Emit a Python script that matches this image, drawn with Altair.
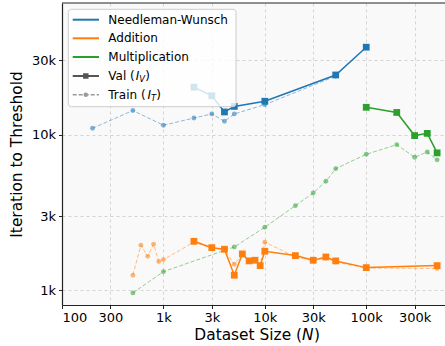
import altair as alt
import pandas as pd

tasks = ["Needleman-Wunsch", "Addition", "Multiplication"]
colors = ["#1f77b4", "#ff7f0e", "#2ca02c"]

# Needleman-Wunsch
nw_train_n = [200, 500, 1000, 2000, 3000, 4000, 5000, 10000, 50000]
nw_train_it = [11000, 14300, 11500, 12800, 13600, 12200, 13600, 15600, 23800]
nw_val_n = [2000, 3000, 4000, 5000, 10000, 50000, 100000]
nw_val_it = [20200, 17800, 14000, 15200, 16400, 24200, 36500]

# Addition
add_train_n = [500, 600, 700, 800, 900, 1000, 2000, 3000, 4000, 5000, 6000, 7000, 8000,
               9000, 10000, 20000, 30000, 40000, 50000, 100000, 500000]
add_train_it = [1250, 1950, 1655, 1975, 1530, 1575, 2040, 1870, 1830, 1470, 1700, 1540, 1560,
                1450, 2040, 1640, 1550, 1610, 1520, 1390, 1380]
add_val_n = [2000, 3000, 4000, 5000, 6000, 7000, 8000, 9000, 10000, 20000, 30000, 40000,
             50000, 100000, 500000]
add_val_it = [2065, 1880, 1836, 1250, 1713, 1545, 1560, 1441, 1783, 1671, 1560, 1638,
              1545, 1399, 1441]

# Multiplication
mul_train_n = [500, 1000, 5000, 10000, 20000, 30000, 40000, 50000, 100000, 200000, 300000,
               400000, 500000]
mul_train_it = [962, 1318, 1899, 2542, 3500, 4220, 5020, 6050, 7480, 8630, 7160, 7740, 6890]
mul_val_n = [100000, 200000, 300000, 400000, 500000]
mul_val_it = [15000, 13900, 9870, 10200, 7640]

x_ticks = [100, 300, 1000, 3000, 10000, 30000, 100000, 300000]
y_ticks = [1000, 3000, 10000, 30000]

rows = []
def add(task, kind, ns, its):
    for n, v in zip(ns, its):
        rows.append({"task": task, "kind": kind, "N": n, "it": v})

add(tasks[0], "train", nw_train_n, nw_train_it)
add(tasks[0], "val", nw_val_n, nw_val_it)
add(tasks[1], "train", add_train_n, add_train_it)
add(tasks[1], "val", add_val_n, add_val_it)
add(tasks[2], "train", mul_train_n, mul_train_it)
add(tasks[2], "val", mul_val_n, mul_val_it)
df = pd.DataFrame(rows)

FONT = "DejaVu Sans"
W, H = 383, 302

lbl = "datum.value >= 1000 ? format(datum.value / 1000, 'd') + 'k' : format(datum.value, 'd')"

x = alt.X("N:Q",
          scale=alt.Scale(type="log", domain=[100, 598000], nice=False),
          axis=alt.Axis(values=x_ticks, labelExpr=lbl, title=None))
y = alt.Y("it:Q",
          scale=alt.Scale(type="log", domain=[804.6, 70200], nice=False),
          axis=alt.Axis(values=y_ticks, labelExpr=lbl, title="Iteration to Threshold",
                        titlePadding=7))
color = alt.Color("task:N", scale=alt.Scale(domain=tasks, range=colors), legend=None)

base = alt.Chart(df).encode(x=x, y=y, color=color, detail="task:N")
train = base.transform_filter(alt.datum.kind == "train")
val = base.transform_filter(alt.datum.kind == "val")

train_line = train.mark_line(strokeDash=[4, 2], strokeWidth=1, opacity=0.5)
train_pts = train.mark_point(shape="circle", filled=True, size=24, opacity=0.55)
val_line = val.mark_line(strokeWidth=1.5)
val_pts = val.mark_point(shape="square", filled=True, size=46, opacity=1)

one = pd.DataFrame({"k": [0]})
o = alt.Chart(one)

top_border = o.mark_rule(color="#222", strokeWidth=1.2).encode(
    x=alt.value(0), x2=alt.value(W), y=alt.value(0))

legend_box = o.mark_rect(fill="white", fillOpacity=0.8, stroke="#cccccc", strokeWidth=1,
                         cornerRadius=3).encode(
    x=alt.value(6.3), x2=alt.value(174), y=alt.value(6.3), y2=alt.value(103.7))

row_y = [16.7, 35.3, 54.0, 73.0, 91.7]
lx1, lx2, lxm, tx = 10.7, 37.0, 23.8, 46.3

legend_layers = [legend_box]
for i, t in enumerate(tasks):
    legend_layers.append(o.mark_rule(color=colors[i], strokeWidth=2).encode(
        x=alt.value(lx1), x2=alt.value(lx2), y=alt.value(row_y[i])))
    legend_layers.append(o.mark_text(align="left", baseline="middle", fontSize=12, font=FONT,
                                     color="black").encode(
        x=alt.value(tx), y=alt.value(row_y[i]), text=alt.value(t)))

legend_layers.append(o.mark_rule(color="#555555", strokeWidth=2).encode(
    x=alt.value(lx1), x2=alt.value(lx2), y=alt.value(row_y[3])))
legend_layers.append(o.mark_point(shape="square", filled=True, color="#555555", size=30,
                                  opacity=1).encode(
    x=alt.value(lxm), y=alt.value(row_y[3])))
legend_layers.append(o.mark_rule(color="#999999", strokeWidth=1.5, strokeDash=[4, 2]).encode(
    x=alt.value(lx1), x2=alt.value(lx2), y=alt.value(row_y[4])))
legend_layers.append(o.mark_point(shape="circle", filled=True, color="#999999", size=20,
                                  opacity=1).encode(
    x=alt.value(lxm), y=alt.value(row_y[4])))


def rich(y0, parts):
    out = []
    for (txt, xx, size, style, dy) in parts:
        out.append(o.mark_text(align="left", baseline="middle", fontSize=size, font=FONT,
                               fontStyle=style, color="black", dy=dy).encode(
            x=alt.value(xx), y=alt.value(y0), text=alt.value(txt)))
    return out

legend_layers += rich(row_y[3], [("Val (", tx, 12, "normal", 0),
                                 ("I", tx + 27.4, 12, "italic", 0),
                                 ("V", tx + 31.0, 8.4, "italic", 3),
                                 (")", tx + 37.0, 12, "normal", 0)])
legend_layers += rich(row_y[4], [("Train (", tx, 12, "normal", 0),
                                 ("I", tx + 39.1, 12, "italic", 0),
                                 ("T", tx + 42.7, 8.4, "italic", 3),
                                 (")", tx + 48.0, 12, "normal", 0)])

# x-axis title with italic N
xt_y = 332
xt = [
    o.mark_text(align="right", baseline="middle", fontSize=15.4, font=FONT, color="black").encode(
        x=alt.value(240.0), y=alt.value(xt_y), text=alt.value("Dataset Size (")),
    o.mark_text(align="left", baseline="middle", fontSize=15.4, font=FONT, fontStyle="italic",
                color="black").encode(
        x=alt.value(240.0), y=alt.value(xt_y), text=alt.value("N")),
    o.mark_text(align="left", baseline="middle", fontSize=15.4, font=FONT, color="black").encode(
        x=alt.value(252.0), y=alt.value(xt_y), text=alt.value(")")),
]

chart = alt.layer(train_line, train_pts, val_line, val_pts, top_border,
                  *legend_layers, *xt).properties(
    width=W, height=H,
    padding={"left": 62, "top": 3, "right": 0, "bottom": 41},
    autosize=alt.AutoSizeParams(type="none"),
    background="white",
).configure_view(
    fill="#f9f9f9", stroke=None
).configure_axis(
    domainColor="#222", domainWidth=1.2, tickColor="#222", tickSize=3.5, tickWidth=1,
    labelFont=FONT, labelFontSize=13, labelColor="black", labelPadding=3,
    titleFont=FONT, titleFontSize=15.4, titleFontWeight="normal", titleColor="black",
    grid=True, gridColor="#d4d4d4", gridDash=[3, 3], gridWidth=1,
)

chart.save("out.html", embed_options={"renderer": "svg", "actions": False})
